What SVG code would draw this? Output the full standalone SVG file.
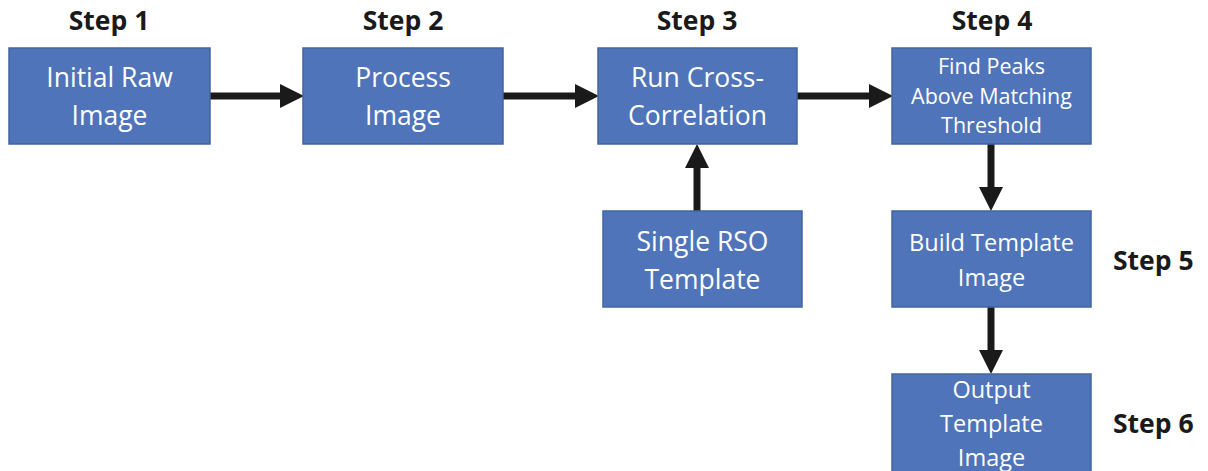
<svg xmlns="http://www.w3.org/2000/svg" width="1208" height="471" viewBox="0 0 1208 471">
<style>
.box{fill:#4f74ba;stroke:#41659f;stroke-width:1.5}
.t{font-family:"Open Sans","Noto Sans",sans-serif;fill:#ffffff;text-anchor:middle}
.l{font-family:"Open Sans","Noto Sans",sans-serif;font-weight:bold;fill:#1a1a1a;font-size:26.5px}
.c{stroke:#1a1a1a;stroke-width:7;fill:none}
.h{fill:#1a1a1a}
</style>
<rect width="1208" height="471" fill="#ffffff"/>
<g id="labels">
<text class="l" x="109" y="30" text-anchor="middle">Step 1</text>
<text class="l" x="403" y="30" text-anchor="middle">Step 2</text>
<text class="l" x="697" y="30" text-anchor="middle">Step 3</text>
<text class="l" x="992" y="30" text-anchor="middle">Step 4</text>
<text class="l" x="1113" y="270">Step 5</text>
<text class="l" x="1113" y="433">Step 6</text>
</g>
<g id="connectors">
<line class="c" x1="210" y1="96" x2="282" y2="96"/><polygon class="h" points="280,84 304,96 280,108"/>
<line class="c" x1="503" y1="96" x2="577" y2="96"/><polygon class="h" points="575,84 599,96 575,108"/>
<line class="c" x1="797" y1="96" x2="871" y2="96"/><polygon class="h" points="869,84 893,96 869,108"/>
<line class="c" x1="697" y1="211" x2="697" y2="166"/><polygon class="h" points="685,168 697,144 709,168"/>
<line class="c" x1="991" y1="144" x2="991" y2="190"/><polygon class="h" points="979,187 991,211 1003,187"/>
<line class="c" x1="991" y1="307" x2="991" y2="353"/><polygon class="h" points="979,350 991,374 1003,350"/>
</g>
<g id="n1"><rect class="box" x="9" y="48" width="201" height="96"/>
<text class="t" font-size="26.5" x="109.5" y="87">Initial Raw</text><text class="t" font-size="26.5" x="109.5" y="125">Image</text></g>
<g id="n2"><rect class="box" x="303" y="48" width="200" height="96"/>
<text class="t" font-size="26.5" x="403" y="87">Process</text><text class="t" font-size="26.5" x="403" y="125">Image</text></g>
<g id="n3"><rect class="box" x="598" y="48" width="199" height="96"/>
<text class="t" font-size="26.5" x="697.5" y="87">Run Cross-</text><text class="t" font-size="26.5" x="697.5" y="125">Correlation</text></g>
<g id="n4"><rect class="box" x="892" y="48" width="199" height="96"/>
<text class="t" font-size="21.5" x="991.5" y="74">Find Peaks</text><text class="t" font-size="21.5" x="991.5" y="104">Above Matching</text><text class="t" font-size="21.5" x="991.5" y="133">Threshold</text></g>
<g id="n5"><rect class="box" x="603" y="211" width="199" height="96"/>
<text class="t" font-size="26.5" x="702.5" y="251">Single RSO</text><text class="t" font-size="26.5" x="702.5" y="289">Template</text></g>
<g id="n6"><rect class="box" x="892" y="211" width="199" height="96"/>
<text class="t" font-size="23.5" x="991.5" y="251">Build Template</text><text class="t" font-size="23.5" x="991.5" y="286">Image</text></g>
<g id="n7"><rect class="box" x="892" y="374" width="199" height="110"/>
<text class="t" font-size="23.5" x="991.5" y="398">Output</text><text class="t" font-size="23.5" x="991.5" y="432">Template</text><text class="t" font-size="23.5" x="991.5" y="466">Image</text></g>
</svg>
